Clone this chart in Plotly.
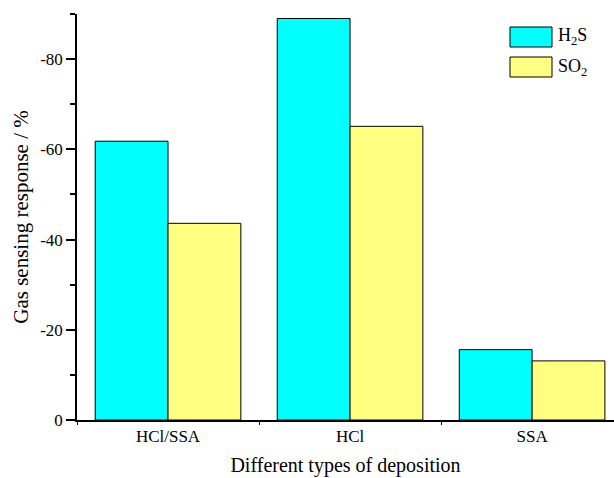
import plotly.graph_objects as go

categories = ["HCl/SSA", "HCl", "SSA"]
h2s = [-61.8, -89.0, -15.6]
so2 = [-43.6, -65.1, -13.1]
y_ticks = [0, -20, -40, -60, -80]
y_tick_text = ["0", "-20", "-40", "-60", "-80"]

FONT = "Liberation Serif, Times New Roman, serif"
CYAN = "#00FFFF"
YELLOW = "#FFFF80"

fig = go.Figure()
fig.add_trace(go.Bar(x=categories, y=h2s, name="H2S", marker=dict(color=CYAN, line=dict(color="#000000", width=1)), showlegend=False))
fig.add_trace(go.Bar(x=categories, y=so2, name="SO2", marker=dict(color=YELLOW, line=dict(color="#000000", width=1)), showlegend=False))

# legend drawn manually
legend_items = [("H<sub>2</sub>S", CYAN), ("SO<sub>2</sub>", YELLOW)]
for i, (label, col) in enumerate(legend_items):
    y0 = 27 + i * 30
    fig.add_shape(type="rect", xref="paper", yref="paper",
                  x0=(510 - 77) / 537, x1=(552 - 77) / 537,
                  y0=1 - (y0 + 20 - 14) / 406, y1=1 - (y0 - 14) / 406,
                  fillcolor=col, line=dict(color="#000000", width=1))
    fig.add_annotation(xref="paper", yref="paper", x=(556 - 77) / 537, y=1 - (y0 + 10 - 14) / 406,
                       text=label, showarrow=False, xanchor="left", yanchor="middle",
                       font=dict(family=FONT, size=18, color="#000000"))

fig.update_layout(
    width=614, height=478,
    margin=dict(l=77, r=0, t=14, b=58, autoexpand=False),
    paper_bgcolor="white", plot_bgcolor="white",
    barmode="group", bargap=0.2, bargroupgap=0,
    font=dict(family=FONT, color="#000000"),
    xaxis=dict(
        range=[-0.5, 2.45], showline=True, linecolor="#000000", linewidth=1.5,
        ticks="outside", tickson="boundaries", ticklen=3, tickcolor="#000000",
        tickfont=dict(family=FONT, size=17), showgrid=False, zeroline=False, automargin=False,
        title=dict(text="Different types of deposition", font=dict(family=FONT, size=20), standoff=13),
    ),
    yaxis=dict(
        range=[0, -90], showline=True, linecolor="#000000", linewidth=1.5,
        tickvals=y_ticks, ticktext=y_tick_text, ticks="outside", ticklen=9, tickwidth=1.5,
        tickcolor="#000000", tickfont=dict(family=FONT, size=17), showgrid=False, zeroline=False,
        automargin=False,
        minor=dict(dtick=10, ticks="outside", ticklen=5, tickcolor="#000000", tickwidth=1.5, showgrid=False),
        title=dict(text="Gas sensing response / %", font=dict(family=FONT, size=21), standoff=6),
    ),
)

fig.write_html("out.html", config={"displayModeBar": False},
               post_script="document.body.style.margin='0';document.body.style.overflow='hidden';")
